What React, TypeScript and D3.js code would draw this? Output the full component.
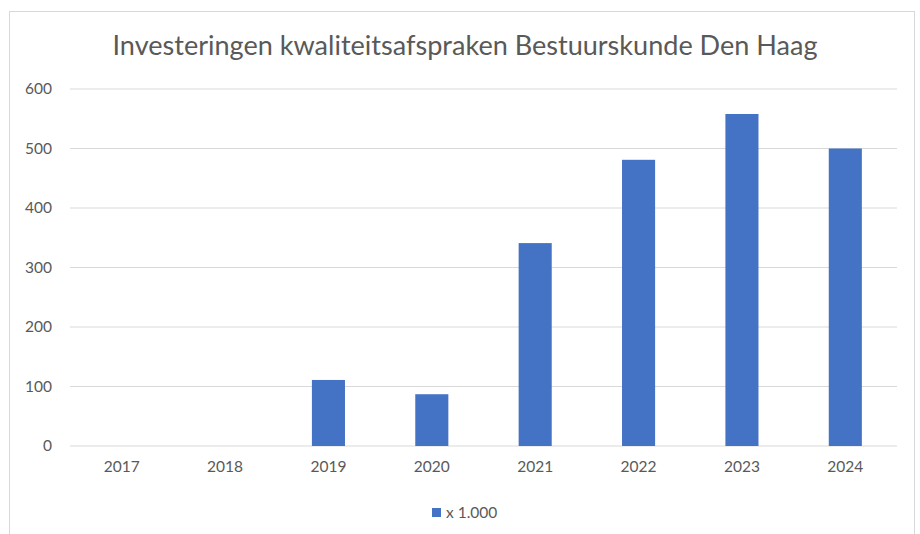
import React from 'react';
import * as d3 from 'd3';

const years = ['2017', '2018', '2019', '2020', '2021', '2022', '2023', '2024'];
const amounts = [0, 0, 111, 87, 341, 481, 558, 500];
const yTicks = [0, 100, 200, 300, 400, 500, 600];
const seriesName = 'x 1.000';

const App = () => {
  const W = 920, H = 534;
  const left = 70, right = 897, top = 89, bottom = 446;

  const x = d3.scaleBand().domain(years).range([left, right]).paddingInner(0.68).paddingOuter(0.34);
  const y = d3.scaleLinear().domain([0, 600]).range([bottom, top]);
  const txt = '#595959';
  const font = 'Lato, "Open Sans", sans-serif';
  const fs = 15.5;

  return (
    <svg width={W} height={H} style={{ position: 'absolute', left: 0, top: 0 }}>
      <rect x={0} y={0} width={W} height={H} fill="#fff" />
      <rect x={9.5} y={11.5} width={905} height={540} fill="#fff" stroke="#d9d9d9" />
      <text x={465} y={55} textAnchor="middle" fill={txt} fontFamily={font} fontSize={27} textLength={705} lengthAdjust="spacingAndGlyphs">
        Investeringen kwaliteitsafspraken Bestuurskunde Den Haag
      </text>
      {yTicks.map((t) => (
        <g key={t}>
          <line x1={left} x2={right} y1={y(t)} y2={y(t)} stroke="#d9d9d9" strokeWidth={1} />
          <text x={52} y={y(t)} dy="0.35em" textAnchor="end" fill={txt} fontFamily={font} fontSize={fs}>
            {t}
          </text>
        </g>
      ))}
      {years.map((yr, i) => (
        <g key={yr}>
          <rect x={x(yr)} y={y(amounts[i])} width={x.bandwidth()} height={bottom - y(amounts[i])} fill="#4472c4" />
          <text x={(x(yr) as number) + x.bandwidth() / 2} y={472} textAnchor="middle" fill={txt} fontFamily={font} fontSize={fs}>
            {yr}
          </text>
        </g>
      ))}
      <rect x={432} y={508} width={9} height={9} fill="#4472c4" />
      <text x={446} y={518} fill={txt} fontFamily={font} fontSize={fs}>
        {seriesName}
      </text>
    </svg>
  );
};

export default App;
